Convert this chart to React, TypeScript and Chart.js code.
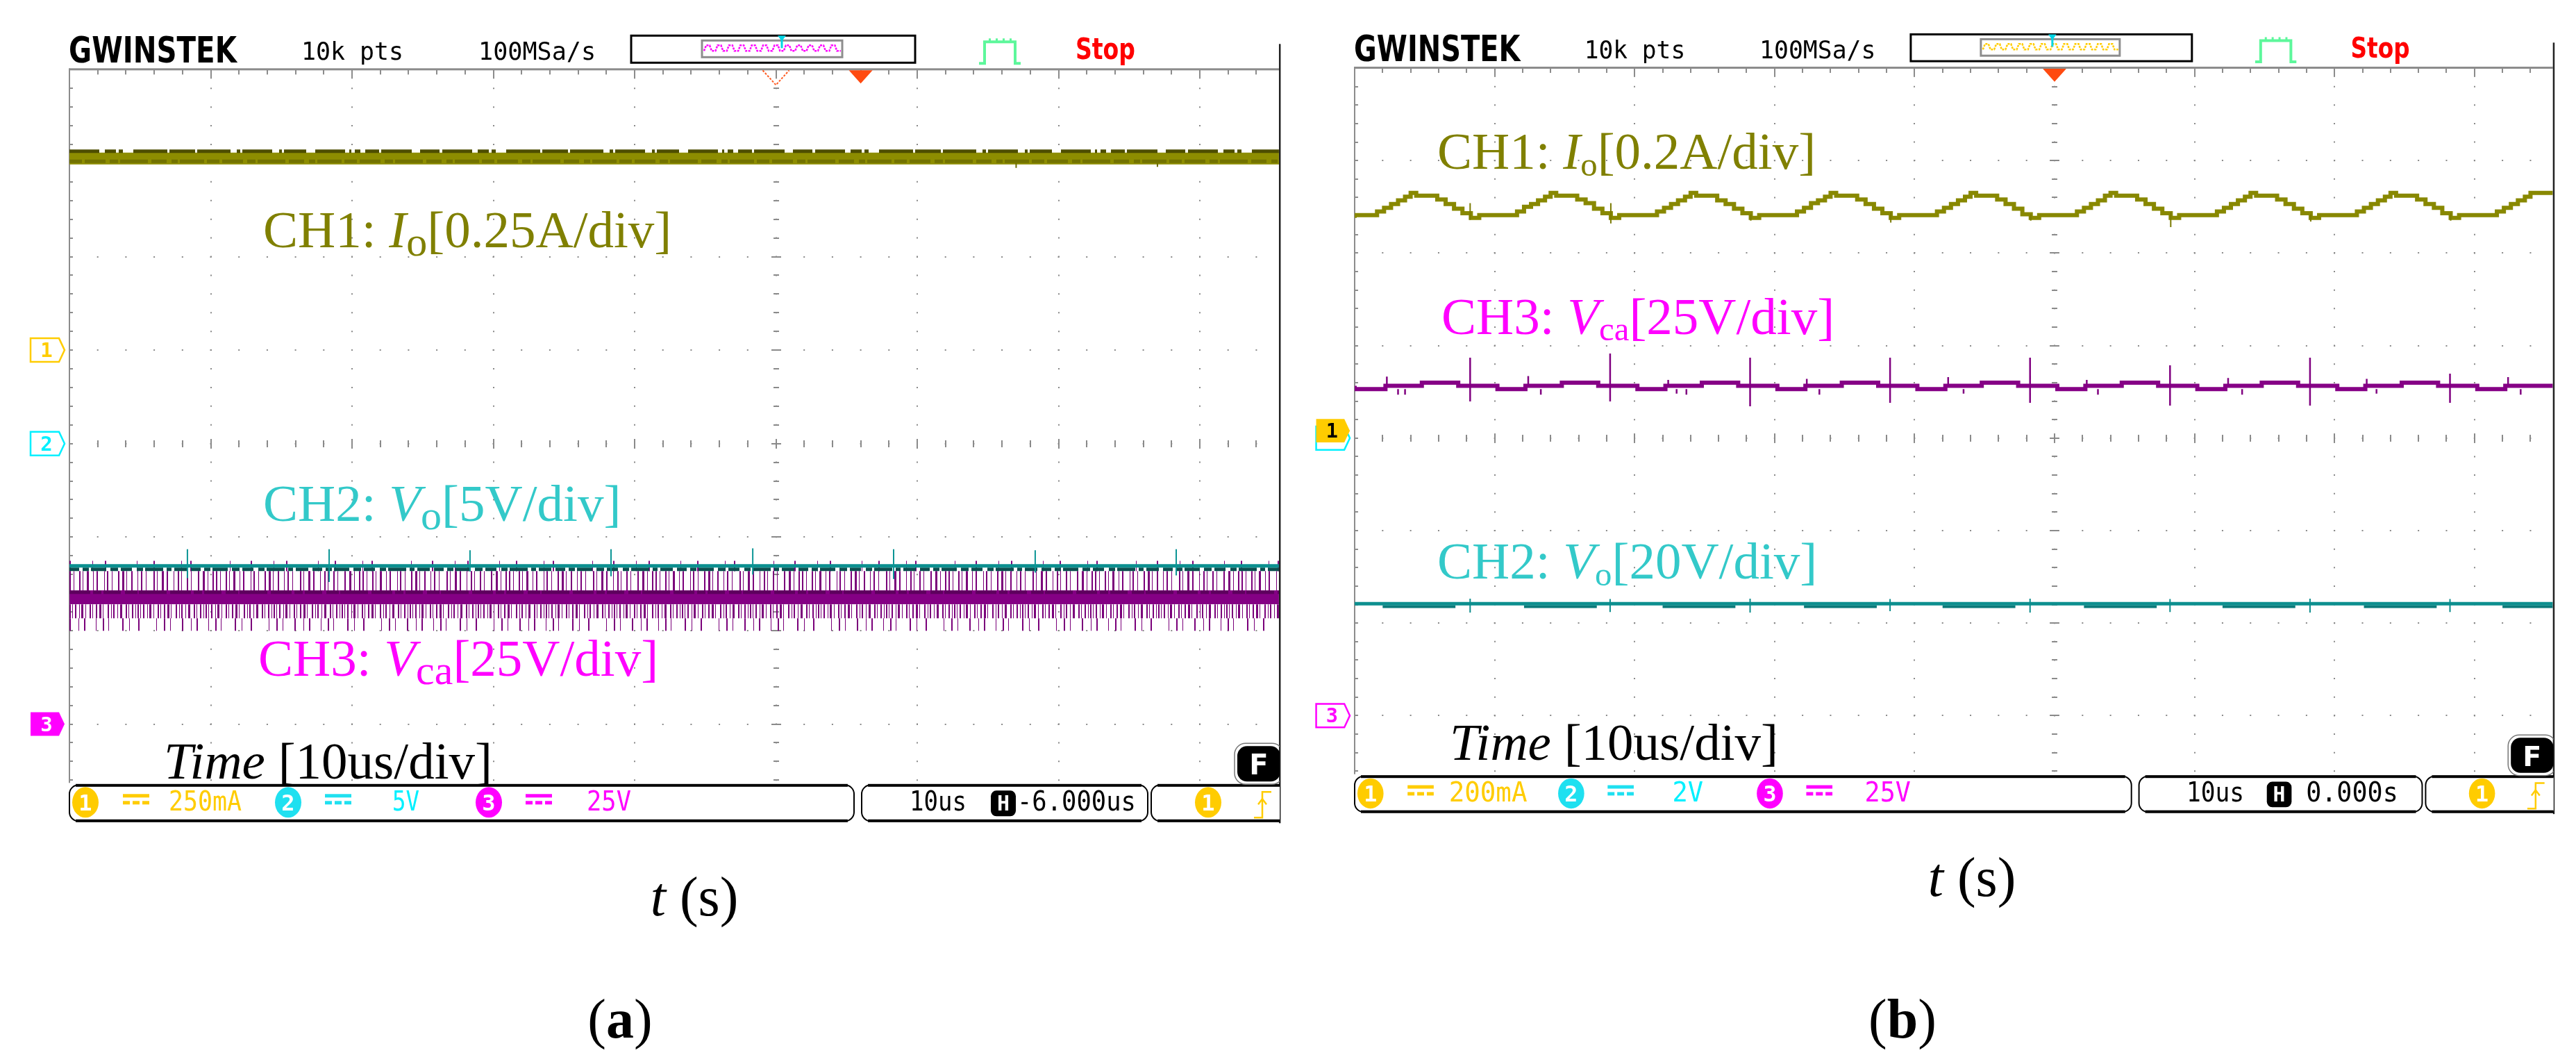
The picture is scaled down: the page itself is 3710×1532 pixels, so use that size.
import React, { useEffect, useRef } from 'react';
import { Chart, registerables } from 'chart.js';

Chart.register(...registerables);

// ================= DATA =================
// Screen readings in divisions (0 = centre line), time axis in divisions (10 us/div)

// ---- Panel (a): H position -6.000us ----
const aTime = [0, 8.56];
const aCh1Io = [3.05, 3.05];
const aCh1IoUpperEdge = [3.127, 3.127];
const aCh1IoStreak = [3.02, 3.02];
const aCh1GlitchTime = [6.7, 7.7];
const aCh1GlitchLow = [2.95, 2.96];
const aCh1GlitchHigh = [3.0, 3.0];

const aCh2Vo = [-1.308, -1.308];
const aCh2VoLowerEdge = [-1.345, -1.345];
const aCh2SpikeTime = [0.835, 1.838, 2.835, 3.833, 4.836, 5.833, 6.835, 7.833];
const aCh2SpikeTop = [-1.13, -1.13, -1.14, -1.13, -1.12, -1.13, -1.14, -1.13];
const aCh2SpikeBottom = [-1.44, -1.48, -1.37, -1.42, -1.4, -1.45, -1.38, -1.41];

const aCh3Vca = [-1.645, -1.645];
const aCh3VcaUpperEdge = [-1.59, -1.59];
const aCh3NoiseAbove = [-1.468, -1.468];
const aCh3NoiseBelow = [-1.795, -1.795];
const aCh3NoiseFarBelow = [-1.936, -1.936];
const aCh3NoiseFarAbove = [-1.31, -1.31];

// ---- Panel (b): H position 0.000s ----
const bCh1Time = [
  0, 0.16, 0.21, 0.26, 0.31, 0.36, 0.40, 0.44, 0.59, 0.65, 0.71, 0.77, 0.83, 0.89,
  1.16, 1.21, 1.26, 1.31, 1.36, 1.40, 1.44, 1.59, 1.65, 1.71, 1.77, 1.83, 1.89,
  2.16, 2.21, 2.26, 2.31, 2.36, 2.40, 2.44, 2.59, 2.65, 2.71, 2.77, 2.83, 2.89,
  3.16, 3.21, 3.26, 3.31, 3.36, 3.40, 3.44, 3.59, 3.65, 3.71, 3.77, 3.83, 3.89,
  4.16, 4.21, 4.26, 4.31, 4.36, 4.40, 4.44, 4.59, 4.65, 4.71, 4.77, 4.83, 4.89,
  5.16, 5.21, 5.26, 5.31, 5.36, 5.40, 5.44, 5.59, 5.65, 5.71, 5.77, 5.83, 5.89,
  6.16, 6.21, 6.26, 6.31, 6.36, 6.40, 6.44, 6.59, 6.65, 6.71, 6.77, 6.83, 6.89,
  7.16, 7.21, 7.26, 7.31, 7.36, 7.40, 7.44, 7.59, 7.65, 7.71, 7.77, 7.83, 7.89,
  8.16, 8.21, 8.26, 8.31, 8.36, 8.40, 8.44, 8.56,
];
const bCh1Io = [
  2.38, 2.41, 2.45, 2.49, 2.53, 2.57, 2.61, 2.65, 2.62, 2.58, 2.53, 2.48, 2.43, 2.38,
  2.41, 2.45, 2.50, 2.53, 2.57, 2.61, 2.65, 2.62, 2.58, 2.54, 2.48, 2.43, 2.38,
  2.41, 2.45, 2.49, 2.53, 2.57, 2.61, 2.65, 2.62, 2.57, 2.53, 2.48, 2.43, 2.38,
  2.41, 2.45, 2.49, 2.54, 2.57, 2.61, 2.65, 2.62, 2.58, 2.53, 2.48, 2.43, 2.38,
  2.41, 2.45, 2.49, 2.53, 2.57, 2.61, 2.65, 2.62, 2.58, 2.53, 2.48, 2.42, 2.38,
  2.41, 2.45, 2.49, 2.53, 2.57, 2.62, 2.65, 2.62, 2.58, 2.53, 2.48, 2.43, 2.38,
  2.41, 2.45, 2.49, 2.53, 2.57, 2.61, 2.65, 2.62, 2.58, 2.53, 2.48, 2.43, 2.38,
  2.41, 2.45, 2.49, 2.53, 2.57, 2.61, 2.65, 2.62, 2.58, 2.53, 2.49, 2.43, 2.38,
  2.41, 2.45, 2.49, 2.53, 2.57, 2.61, 2.65, 2.65,
];
const bCh1SpikeTime = [0.825, 1.83, 2.83, 3.83, 4.83, 5.83, 6.83, 7.83];
const bCh1SpikeLow = [2.36, 2.32, 2.35, 2.33, 2.35, 2.28, 2.34, 2.35];
const bCh1SpikeHigh = [2.54, 2.54, 2.42, 2.44, 2.42, 2.44, 2.42, 2.43];

const bCh3Time = [
  0, 0.22, 0.48, 0.74, 1.02, 1.22, 1.48, 1.74, 2.02, 2.22, 2.48, 2.74,
  3.02, 3.22, 3.48, 3.74, 4.02, 4.22, 4.48, 4.74, 5.02, 5.22, 5.48, 5.74,
  6.02, 6.22, 6.48, 6.74, 7.02, 7.22, 7.48, 7.74, 8.02, 8.22, 8.48, 8.56,
];
const bCh3Vca = [
  0.565, 0.53, 0.565, 0.6, 0.565, 0.53, 0.565, 0.6, 0.565, 0.53, 0.565, 0.6,
  0.565, 0.53, 0.565, 0.6, 0.565, 0.53, 0.565, 0.6, 0.565, 0.53, 0.565, 0.6,
  0.565, 0.53, 0.565, 0.6, 0.565, 0.53, 0.565, 0.6, 0.565, 0.53, 0.565, 0.565,
];
const bCh3SpikeTime = [
  0.23, 0.31, 0.36, 0.825, 1.24, 1.33, 1.825, 2.24, 2.3, 2.37, 2.825, 3.23, 3.32, 3.825,
  4.24, 4.35, 4.825, 5.23, 5.31, 5.825, 6.24, 6.34, 6.825, 7.23, 7.3, 7.825, 8.24, 8.33,
];
const bCh3SpikeLow = [
  0.565, 0.47, 0.47, 0.396, 0.565, 0.47, 0.396, 0.565, 0.48, 0.47, 0.344, 0.565, 0.47, 0.381,
  0.565, 0.48, 0.381, 0.565, 0.47, 0.351, 0.565, 0.47, 0.351, 0.565, 0.48, 0.381, 0.565, 0.47,
];
const bCh3SpikeHigh = [
  0.665, 0.53, 0.53, 0.869, 0.67, 0.53, 0.914, 0.63, 0.53, 0.53, 0.869, 0.64, 0.53, 0.869,
  0.66, 0.53, 0.869, 0.63, 0.53, 0.787, 0.65, 0.53, 0.869, 0.64, 0.53, 0.697, 0.66, 0.53,
];

const bTime = [0, 8.56];
const bCh2Vo = [-1.79, -1.79];
const bCh2DipStart = [0.2, 1.21, 2.2, 3.21, 4.2, 5.21, 6.2, 7.21, 8.2];
const bCh2DipEnd = [0.72, 1.73, 2.72, 3.73, 4.72, 5.73, 6.72, 7.73, 8.56];
const bCh2DipLevel = [-1.822, -1.822, -1.822, -1.822, -1.822, -1.822, -1.822, -1.822, -1.822];
const bCh2SpikeTime = [0.825, 1.825, 2.825, 3.825, 4.825, 5.825, 6.825, 7.825];
const bCh2SpikeLow = [-1.885, -1.88, -1.885, -1.87, -1.885, -1.88, -1.885, -1.88];
const bCh2SpikeHigh = [-1.735, -1.74, -1.735, -1.74, -1.735, -1.74, -1.735, -1.74];

// Scope readouts
const aReadout = ['250mA', '5V', '25V', '10us', '-6.000us'];
const bReadout = ['200mA', '2V', '25V', '10us', '0.000s'];

// ================= STYLE / LAYOUT =================
const SERIF = "'Liberation Serif', 'Times New Roman', serif";
const MONO = "'DejaVu Sans Mono', monospace";
const SANS = "'DejaVu Sans', sans-serif";
const GRID = '#8a8a8a';
const C_YEL = '#FFCC00';
const C_CYAN = '#00F0FF';
const C_MAG = '#FF00FF';

const DASH_CH1_EDGE = [43, 8, 16, 4, 6, 15, 49, 3, 37, 3, 48, 9, 5, 3, 43, 10, 4, 3, 32, 13, 43, 6, 3, 5, 8, 7, 20, 3, 44, 12, 28, 4];
const DASH_CH1_STREAK = [18, 4, 30, 6, 12, 3, 40, 5, 22, 7, 9, 3, 35, 4];
const DASH_CH2_EDGE = [14, 5, 9, 3, 22, 6, 11, 4, 16, 7, 9, 3, 26, 5, 7, 4, 18, 6];
const DASH_CH3_EDGE = [30, 4, 12, 3, 25, 6, 18, 2, 40, 5];
const DASH_DENSE_UP = [2, 4, 1, 7, 2, 3, 1, 5, 3, 6, 1, 4, 2, 9, 1, 3, 2, 5, 1, 8, 2, 4, 3, 3, 1, 6, 2, 7, 1, 4, 2, 5, 1, 10, 2, 3, 1, 6, 3, 4, 2, 8, 1, 5, 2, 3, 1, 7, 2, 4, 1, 9, 2, 5, 3, 4, 1, 6, 2, 3];
const DASH_DENSE_LOW = [2, 2, 1, 3, 2, 4, 1, 2, 3, 3, 1, 5, 2, 2, 1, 4, 2, 3, 3, 2, 1, 6, 2, 3, 1, 2, 2, 4, 1, 3, 3, 5, 2, 2, 1, 4, 2, 3, 1, 2];
const DASH_SPARSE_LOW = [2, 11, 1, 7, 2, 15, 1, 9, 2, 6, 1, 19, 2, 8, 1, 12, 2, 24, 1, 10, 2, 7, 1, 16];
const DASH_SPARSE_TOP = [2, 31, 1, 17, 2, 44, 1, 23, 2, 38, 1, 12, 2, 55, 1, 29];

const series = (t: number[], v: number[]) => t.map((x, i) => ({ x, y: v[i] }));
const spikes = (t: number[], lo: number[], hi: number[]) =>
  t.flatMap((x, i) => [{ x, y: lo[i] }, { x, y: hi[i] }, { x, y: null }]);
const segs = (a: number[], b: number[], v: number[]) =>
  a.flatMap((x, i) => [{ x, y: v[i] }, { x: b[i], y: v[i] }, { x: b[i], y: null }]);

const line = (data: any[], color: string, width: number, extra: any = {}) => ({
  type: 'line',
  data,
  borderColor: color,
  borderWidth: width,
  pointRadius: 0,
  fill: false,
  tension: 0,
  borderCapStyle: 'butt',
  borderJoinStyle: 'miter',
  spanGaps: false,
  ...extra,
});

const aDatasets = [
  line(spikes(aCh1GlitchTime, aCh1GlitchLow, aCh1GlitchHigh), '#6b6b00', 2),
  line(series(aTime, aCh1IoUpperEdge), '#4e4e00', 5, { borderDash: DASH_CH1_EDGE }),
  line(series(aTime, aCh1IoStreak), '#727200', 5, { borderDash: DASH_CH1_STREAK }),
  line(series(aTime, aCh1Io), '#8d8d00', 17),
  line(spikes(aCh2SpikeTime, aCh2SpikeBottom, aCh2SpikeTop), '#0b9595', 2),
  line(series(aTime, aCh2Vo), '#0b9090', 5),
  line(series(aTime, aCh2VoLowerEdge), '#0c4f4f', 5, { borderDash: DASH_CH2_EDGE }),
  line(series(aTime, aCh3NoiseFarAbove), '#7c007c', 15, { borderDash: DASH_SPARSE_TOP }),
  line(series(aTime, aCh3VcaUpperEdge), '#5e005e', 5, { borderDash: DASH_CH3_EDGE }),
  line(series(aTime, aCh3Vca), '#840084', 20),
  line(series(aTime, aCh3NoiseAbove), '#7a007a', 28, { borderDash: DASH_DENSE_UP }),
  line(series(aTime, aCh3NoiseBelow), '#7a007a', 20, { borderDash: DASH_DENSE_LOW }),
  line(series(aTime, aCh3NoiseFarBelow), '#7a007a', 18, { borderDash: DASH_SPARSE_LOW }),
];

const bDatasets = [
  line(spikes(bCh1SpikeTime, bCh1SpikeLow, bCh1SpikeHigh), '#7a7a00', 2),
  line(series(bCh1Time, bCh1Io), '#888800', 6, { stepped: 'after' }),
  line(spikes(bCh3SpikeTime, bCh3SpikeLow, bCh3SpikeHigh), '#800080', 2.5),
  line(series(bCh3Time, bCh3Vca), '#860086', 6, { stepped: 'after' }),
  line(spikes(bCh2SpikeTime, bCh2SpikeLow, bCh2SpikeHigh), '#0b8c8c', 2),
  line(series(bTime, bCh2Vo), '#0d8f8f', 5),
  line(segs(bCh2DipStart, bCh2DipEnd, bCh2DipLevel), '#0b7a7a', 4),
];

const CANVAS_W = 1855;
const CANVAS_H = 1200;

const PANEL_A = {
  canvasLeft: 0, L: 100, T: 100.3, divW: 203.5, divH: 134.6, xMax: 8.56, s: 1,
  trigDiv: 5.6, hollowDiv: 5 as number | null, memMarker: 1026, memColor: C_MAG,
  markers: [
    { level: 1.0, color: C_YEL, filled: false, label: '1' },
    { level: 0, color: C_CYAN, filled: false, label: '2' },
    { level: -3.0, color: C_MAG, filled: true, label: '3' },
  ],
  readout: aReadout,
  readoutX: [143, 465, 745, 1210, 1365],
  readoutW: [105, 39, 64, 82, 171],
  datasets: aDatasets,
};

const PANEL_B = {
  canvasLeft: 1855, L: 1951, T: 98, divW: 201.6, divH: 133.2, xMax: 8.56, s: 0.99,
  trigDiv: 5, hollowDiv: null as number | null, memMarker: 1015, memColor: C_YEL,
  markers: [
    { level: 0, color: C_CYAN, filled: false, label: '' },
    { level: 0.08, color: C_YEL, filled: true, label: '1' },
    { level: -3.0, color: C_MAG, filled: false, label: '3' },
  ],
  readout: bReadout,
  readoutX: [137, 462, 742, 1210, 1384],
  readoutW: [114, 45, 67, 84, 134],
  datasets: bDatasets,
};

const READOUT_COLORS = [C_YEL, C_CYAN, C_MAG, '#000', '#000'];

function makeScopePlugin(p: any) {
  return {
    id: 'scopeDecor',
    beforeDatasetsDraw(chart: any) {
      const { ctx, chartArea: ca } = chart;
      const xs = chart.scales.x;
      const ys = chart.scales.y;
      const s = p.s;
      const statusTop = ca.top + 1030 * s;
      ctx.save();
      ctx.fillStyle = GRID;
      const yc = Math.round(ys.getPixelForValue(0));
      for (let k = 1; k <= Math.floor(p.xMax * 5); k++) {
        const px = Math.round(xs.getPixelForValue(k / 5));
        const h = k % 5 === 0 ? 7 * s : 5 * s;
        ctx.fillRect(px - 1, yc - h, 2, 2 * h);
      }
      const xc = Math.round(xs.getPixelForValue(5));
      for (let k = 1; k < 40; k++) {
        const py = Math.round(ys.getPixelForValue(-4 + k / 5));
        if (py > statusTop) continue;
        const w = k % 5 === 0 ? 7 * s : 4 * s;
        ctx.fillRect(xc - w, py - 1, 2 * w, 2);
      }
      ctx.fillStyle = '#8c8c8c';
      ctx.fillRect(ca.left, ca.top - 2, ca.right - ca.left, 3);
      for (let k = 1; k <= Math.floor(p.xMax * 5); k++) {
        const px = Math.round(xs.getPixelForValue(k / 5));
        const len = k % 5 === 0 ? 13 * s : 7 * s;
        ctx.fillRect(px - 1, ca.top, 2, len);
      }
      ctx.fillRect(ca.left - 1, ca.top - 2, 2, statusTop - ca.top + 2);
      for (let k = 1; k < 40; k++) {
        const py = Math.round(ys.getPixelForValue(4 - k / 5));
        if (py > statusTop) break;
        ctx.fillRect(ca.left, py - 1, 5 * s, 2);
      }
      ctx.restore();
    },
    afterDraw(chart: any) {
      const { ctx, chartArea: ca } = chart;
      const xs = chart.scales.x;
      const ys = chart.scales.y;
      const s = p.s;
      const X = (r: number) => ca.left + r * s;
      const Y = (r: number) => ca.top + r * s;
      ctx.save();

      ctx.fillStyle = '#fff';
      ctx.fillRect(X(809), Y(-49), 409 * s, 39 * s);
      ctx.lineWidth = 3;
      ctx.strokeStyle = '#000';
      ctx.strokeRect(X(809), Y(-49), 409 * s, 39 * s);
      ctx.strokeStyle = '#8d8d8d';
      ctx.strokeRect(X(911), Y(-42), 202 * s, 24 * s);
      ctx.strokeStyle = p.memColor;
      ctx.lineWidth = 2.5;
      ctx.setLineDash([3, 1.5]);
      ctx.beginPath();
      const yt = Y(-35);
      const yb = Y(-27);
      ctx.moveTo(X(914), yb);
      for (let i = 0; i < 12; i++) {
        const x0 = X(914 + i * 16.4);
        ctx.lineTo(x0 + 3 * s, yt);
        ctx.lineTo(x0 + 8 * s, yt);
        ctx.lineTo(x0 + 11 * s, yb);
        ctx.lineTo(x0 + 16.4 * s, yb);
      }
      ctx.stroke();
      ctx.setLineDash([]);
      const mx = X(p.memMarker);
      ctx.fillStyle = '#00D5E5';
      ctx.beginPath();
      ctx.moveTo(mx - 6 * s, Y(-49));
      ctx.lineTo(mx + 6 * s, Y(-49));
      ctx.lineTo(mx, Y(-41));
      ctx.closePath();
      ctx.fill();
      ctx.fillRect(mx - 1.5, Y(-45), 3, 14 * s);

      ctx.strokeStyle = '#5DF79B';
      ctx.lineWidth = 4;
      ctx.beginPath();
      ctx.moveTo(X(1310), Y(-9));
      ctx.lineTo(X(1318), Y(-9));
      ctx.lineTo(X(1318), Y(-40));
      ctx.lineTo(X(1362), Y(-40));
      ctx.lineTo(X(1362), Y(-9));
      ctx.lineTo(X(1370), Y(-9));
      ctx.stroke();
      ctx.fillStyle = '#5DF79B';
      for (const r of [1324, 1334, 1344, 1354]) ctx.fillRect(X(r), Y(-45), 3 * s, 6 * s);

      const tx = xs.getPixelForValue(p.trigDiv);
      ctx.fillStyle = '#FF4A10';
      ctx.beginPath();
      ctx.moveTo(tx - 17 * s, ca.top + 1);
      ctx.lineTo(tx + 17 * s, ca.top + 1);
      ctx.lineTo(tx, ca.top + 20 * s);
      ctx.closePath();
      ctx.fill();
      if (p.hollowDiv !== null) {
        const hx = xs.getPixelForValue(p.hollowDiv);
        ctx.strokeStyle = '#FF5A20';
        ctx.lineWidth = 2;
        ctx.setLineDash([3, 2]);
        ctx.beginPath();
        ctx.moveTo(hx - 19 * s, ca.top + 1);
        ctx.lineTo(hx, ca.top + 22 * s);
        ctx.lineTo(hx + 19 * s, ca.top + 1);
        ctx.stroke();
        ctx.setLineDash([]);
      }

      ctx.fillStyle = '#222';
      ctx.fillRect(ca.right, Y(-37), 2.5, 1122 * s);

      const sbT = Y(1030);
      const sbB = Y(1082);
      ctx.fillStyle = '#fff';
      ctx.fillRect(ca.left - 2, sbT - 3, ca.right - ca.left + 2, sbB - sbT + 6);
      ctx.save();
      ctx.beginPath();
      ctx.rect(0, 0, ca.right + 1, chart.height);
      ctx.clip();
      const box = (a: number, b: number) => {
        const x1 = X(a);
        const x2 = X(b);
        const r = 13 * s;
        ctx.beginPath();
        ctx.roundRect(x1, sbT, x2 - x1, sbB - sbT, r);
        ctx.fillStyle = '#fff';
        ctx.fill();
        ctx.lineWidth = 2;
        ctx.strokeStyle = '#000';
        ctx.stroke();
        ctx.fillStyle = '#000';
        ctx.fillRect(x1 + r * 0.7, sbT - 1.5, x2 - x1 - 1.4 * r, 4);
        ctx.fillRect(x1 + r * 0.7, sbB - 2.5, x2 - x1 - 1.4 * r, 4);
      };
      box(0, 1130);
      box(1141, 1553);
      box(1558, 1800);
      const ell = (r: number, color: string) => {
        ctx.beginPath();
        ctx.ellipse(X(r), Y(1055), 19 * s, 22 * s, 0, 0, Math.PI * 2);
        ctx.fillStyle = color;
        ctx.fill();
      };
      ell(23, C_YEL);
      ell(315, '#1FE0F0');
      ell(604, C_MAG);
      ell(1640, C_YEL);
      const cpl = (r: number, color: string) => {
        ctx.fillStyle = color;
        ctx.fillRect(X(r), Y(1043), 38 * s, 5 * s);
        for (let i = 0; i < 3; i++) ctx.fillRect(X(r + i * 14), Y(1053), 10 * s, 5 * s);
      };
      cpl(77, C_YEL);
      cpl(368, '#1FE0F0');
      cpl(657, C_MAG);
      ctx.fillStyle = '#000';
      ctx.beginPath();
      ctx.roundRect(X(1327), Y(1038), 36 * s, 37 * s, 8 * s);
      ctx.fill();
      ctx.strokeStyle = C_YEL;
      ctx.lineWidth = 2.5;
      ctx.beginPath();
      ctx.moveTo(X(1706), Y(1077));
      ctx.lineTo(X(1718), Y(1077));
      ctx.lineTo(X(1718), Y(1040));
      ctx.lineTo(X(1731), Y(1040));
      ctx.stroke();
      ctx.beginPath();
      ctx.moveTo(X(1712), Y(1058));
      ctx.lineTo(X(1718), Y(1050));
      ctx.lineTo(X(1724), Y(1058));
      ctx.stroke();
      ctx.fillStyle = '#000';
      ctx.beginPath();
      ctx.roundRect(X(1682), Y(974), 62 * s, 51 * s, 14 * s);
      ctx.fill();
      ctx.strokeStyle = '#777';
      ctx.lineWidth = 1.5;
      ctx.beginPath();
      ctx.roundRect(X(1678), Y(970), 70 * s, 59 * s, 16 * s);
      ctx.stroke();
      ctx.restore();

      for (const m of p.markers) {
        const yc = ys.getPixelForValue(m.level);
        const h = 17 * s;
        const x1 = ca.left - 56 * s;
        const x2 = ca.left - 15 * s;
        const x3 = ca.left - 7 * s;
        ctx.beginPath();
        ctx.moveTo(x1, yc - h);
        ctx.lineTo(x2, yc - h);
        ctx.lineTo(x3, yc);
        ctx.lineTo(x2, yc + h);
        ctx.lineTo(x1, yc + h);
        ctx.closePath();
        if (m.filled) {
          ctx.fillStyle = m.color;
          ctx.fill();
        } else {
          ctx.fillStyle = '#fff';
          ctx.fill();
          ctx.strokeStyle = m.color;
          ctx.lineWidth = 2.5;
          ctx.stroke();
        }
      }
      ctx.restore();
    },
  };
}

function buildConfig(p: any) {
  const right = p.L + p.xMax * p.divW;
  const bottom = p.T + 8 * p.divH;
  const transparent = 'rgba(0,0,0,0)';
  return {
    type: 'line',
    data: { datasets: p.datasets },
    options: {
      responsive: false,
      maintainAspectRatio: false,
      animation: false,
      devicePixelRatio: 1,
      events: [],
      layout: {
        padding: {
          left: p.L - p.canvasLeft,
          top: p.T,
          right: p.canvasLeft + CANVAS_W - right,
          bottom: CANVAS_H - bottom,
        },
      },
      plugins: { legend: { display: false }, tooltip: { enabled: false }, title: { display: false } },
      scales: {
        x: {
          type: 'linear',
          min: 0,
          max: p.xMax,
          afterFit: (sc: any) => { sc.height = 0; },
          ticks: { display: false, stepSize: 1 },
          grid: {
            color: (c: any) => {
              const v = c.tick ? c.tick.value : 0;
              return Number.isInteger(v) && v > 0 ? GRID : transparent;
            },
            lineWidth: 2,
            drawTicks: false,
            tickLength: 0,
          },
          border: { display: false, dash: [2, p.divH / 5 - 2], dashOffset: 1 },
        },
        y: {
          type: 'linear',
          min: -4,
          max: 4,
          afterFit: (sc: any) => { sc.width = 0; },
          ticks: { display: false, stepSize: 1 },
          grid: {
            color: (c: any) => {
              const v = c.tick ? c.tick.value : 0;
              return Number.isInteger(v) && v > -4 && v < 4 ? GRID : transparent;
            },
            lineWidth: 2,
            drawTicks: false,
            tickLength: 0,
          },
          border: { display: false, dash: [2, p.divW / 5 - 2], dashOffset: 1 },
        },
      },
    },
    plugins: [makeScopePlugin(p)],
  };
}

function ScopeCanvas({ p }: { p: any }) {
  const ref = useRef<HTMLCanvasElement>(null);
  useEffect(() => {
    const chart = new Chart(ref.current as any, buildConfig(p) as any);
    return () => chart.destroy();
  }, []);
  return (
    <canvas
      ref={ref}
      width={CANVAS_W}
      height={CANVAS_H}
      style={{ position: 'absolute', left: p.canvasLeft, top: 0, width: CANVAS_W, height: CANVAS_H }}
    />
  );
}

function ScopeTexts({ p }: { p: any }) {
  const s = p.s;
  const X = (r: number) => p.L + r * s;
  const Y = (r: number) => p.T + r * s;
  const fit = { lengthAdjust: 'spacingAndGlyphs' as any };
  return (
    <g>
      <text x={X(-1)} y={Y(-10)} fontFamily={SANS} fontWeight="bold" fontSize={52 * s} textLength={242 * s} {...fit} fill="#000">GWINSTEK</text>
      <text x={X(334)} y={Y(-14)} fontFamily={MONO} fontSize={36 * s} textLength={147 * s} {...fit} fill="#000">10k pts</text>
      <text x={X(589)} y={Y(-14)} fontFamily={MONO} fontSize={36 * s} textLength={169 * s} {...fit} fill="#000">100MSa/s</text>
      <text x={X(1449)} y={Y(-15)} fontFamily={SANS} fontWeight="bold" fontSize={42 * s} textLength={86 * s} {...fit} fill="#FF0000">Stop</text>
      {p.readout.map((t: string, i: number) => (
        <text key={i} x={X(p.readoutX[i])} y={Y(1067)} fontFamily={MONO} fontSize={39 * s} textLength={p.readoutW[i] * s} {...fit} fill={READOUT_COLORS[i]}>{t}</text>
      ))}
      {[['1', 23], ['2', 315], ['3', 604], ['1', 1640]].map(([t, r], i) => (
        <text key={'c' + i} x={X(r as number)} y={Y(1067)} textAnchor="middle" fontFamily={MONO} fontWeight="bold" fontSize={32 * s} fill="#fff">{t}</text>
      ))}
      <text x={X(1345)} y={Y(1067)} textAnchor="middle" fontFamily={MONO} fontWeight="bold" fontSize={30 * s} fill="#fff">H</text>
      <text x={X(1713)} y={Y(1015)} textAnchor="middle" fontFamily={SANS} fontWeight="bold" fontSize={40 * s} fill="#fff">F</text>
      {p.markers.map((m: any, i: number) =>
        m.label ? (
          <text key={'m' + i} x={p.L - 33 * s} y={p.T + (4 - m.level) * p.divH + 10 * s} textAnchor="middle" fontFamily={MONO} fontWeight="bold" fontSize={29 * s} fill={m.filled ? (m.color === C_YEL ? '#000' : '#fff') : m.color}>{m.label}</text>
        ) : null
      )}
    </g>
  );
}

function ChLabel({ x, y, color, name, sym, sub, rest, subScale, subDy }: any) {
  return (
    <text x={x} y={y} fontFamily={SERIF} fontSize={75} fill={color}>
      {name + ': '}
      <tspan fontStyle="italic">{sym}</tspan>
      <tspan fontSize={75 * subScale} dy={subDy}>{sub}</tspan>
      <tspan dy={-subDy}>{rest}</tspan>
    </text>
  );
}

function TimeLabel({ x, y }: any) {
  return (
    <text x={x} y={y} fontFamily={SERIF} fontSize={75} fill="#000">
      <tspan fontStyle="italic">Time</tspan>
      {' [10us/div]'}
    </text>
  );
}

export default function App() {
  useEffect(() => {
    document.body.style.margin = '0';
  }, []);
  return (
    <div style={{ position: 'fixed', left: 0, top: 0, width: 3710, height: 1532, background: '#fff', overflow: 'hidden' }}>
      <ScopeCanvas p={PANEL_A} />
      <ScopeCanvas p={PANEL_B} />
      <svg width={3710} height={1532} style={{ position: 'absolute', left: 0, top: 0 }}>
        <ScopeTexts p={PANEL_A} />
        <ScopeTexts p={PANEL_B} />
        <ChLabel x={379} y={356} color="#808000" name="CH1" sym="I" sub="o" rest="[0.25A/div]" subScale={0.8} subDy={12} />
        <ChLabel x={379} y={750} color="#33C9C9" name="CH2" sym="V" sub="o" rest="[5V/div]" subScale={0.8} subDy={12} />
        <ChLabel x={372} y={973} color="#FF00FF" name="CH3" sym="V" sub="ca" rest="[25V/div]" subScale={0.8} subDy={12} />
        <TimeLabel x={236} y={1121} />
        <ChLabel x={2070} y={243} color="#808000" name="CH1" sym="I" sub="o" rest="[0.2A/div]" subScale={0.65} subDy={10} />
        <ChLabel x={2076} y={481} color="#FF00FF" name="CH3" sym="V" sub="ca" rest="[25V/div]" subScale={0.65} subDy={9} />
        <ChLabel x={2070} y={833} color="#33C9C9" name="CH2" sym="V" sub="o" rest="[20V/div]" subScale={0.65} subDy={10} />
        <TimeLabel x={2088} y={1094} />
        <text x={1000} y={1318} textAnchor="middle" fontFamily={SERIF} fontSize={80} fill="#000">
          <tspan fontStyle="italic">t</tspan>
          {' (s)'}
        </text>
        <text x={2840} y={1290} textAnchor="middle" fontFamily={SERIF} fontSize={80} fill="#000">
          <tspan fontStyle="italic">t</tspan>
          {' (s)'}
        </text>
        <text x={893} y={1494} textAnchor="middle" fontFamily={SERIF} fontSize={80} fill="#000">
          {'('}
          <tspan fontWeight="bold">a</tspan>
          {')'}
        </text>
        <text x={2740} y={1494} textAnchor="middle" fontFamily={SERIF} fontSize={80} fill="#000">
          {'('}
          <tspan fontWeight="bold">b</tspan>
          {')'}
        </text>
      </svg>
    </div>
  );
}
